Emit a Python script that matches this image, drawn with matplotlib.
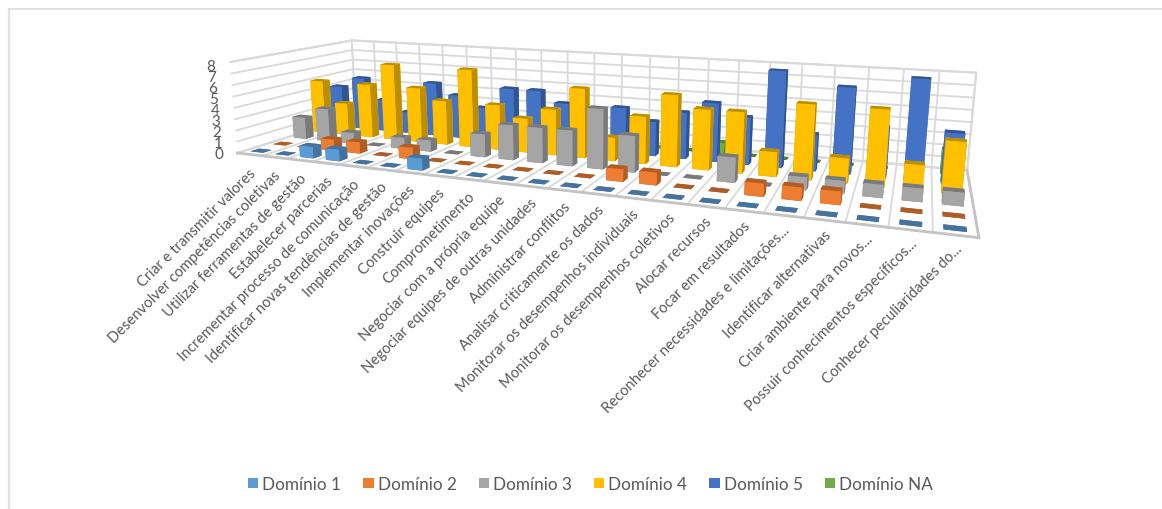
import matplotlib
matplotlib.use('Agg')
import matplotlib.pyplot as plt
from matplotlib.lines import Line2D
from matplotlib.patches import Patch
from matplotlib.colors import to_rgb
from mpl_toolkits.mplot3d import proj3d

plt.rcParams['font.family'] = ['Lato', 'DejaVu Sans']

categories = ["Criar e transmitir valores", "Desenvolver competências coletivas", "Utilizar ferramentas de gestão",
              "Estabelecer parcerias", "Incrementar processo de comunicação", "Identificar novas tendências de gestão",
              "Implementar inovações", "Construir equipes", "Comprometimento", "Negociar com a própria equipe",
              "Negociar equipes de outras unidades", "Administrar conflitos", "Analisar criticamente os dados",
              "Monitorar os desempenhos individuais", "Monitorar os desempenhos coletivos", "Alocar recursos",
              "Focar em resultados", "Reconhecer necessidades e limitações...", "Identificar alternativas",
              "Criar ambiente para novos...", "Possuir conhecimentos específicos...", "Conhecer peculiaridades do..."]
dominio_1 = [0, 0, 1, 1, 0, 0, 1, 0, 0, 0, 0, 0, 0, 0, 0, 0, 0, 0, 0, 0, 0, 0]
dominio_2 = [0, 0, 1, 1, 0, 1, 0, 0, 0, 0, 0, 0, 1, 1, 0, 0, 1, 1, 1, 0, 0, 0]
dominio_3 = [2, 3, 1, 0, 1, 1, 0, 2, 3, 3, 3, 5, 3, 0, 0, 2, 0, 1, 1, 1, 1, 1]
dominio_4 = [5, 3, 5, 7, 5, 4, 7, 4, 3, 4, 6, 2, 4, 6, 5, 5, 2, 6, 2, 6, 2, 4]
dominio_5 = [4, 5, 3, 2, 5, 4, 3, 5, 5, 4, 2, 4, 3, 4, 5, 4, 8, 3, 7, 4, 8, 4]
dominio_na = [0, 0, 0, 0, 0, 1, 0, 0, 0, 0, 0, 0, 0, 0, 1, 0, 0, 0, 0, 0, 0, 2]
series = [dominio_1, dominio_2, dominio_3, dominio_4, dominio_5, dominio_na]
series_names = ["Domínio 1", "Domínio 2", "Domínio 3", "Domínio 4", "Domínio 5", "Domínio NA"]
colors = ['#5B9BD5', '#ED7D31', '#A5A5A5', '#FFC000', '#4472C4', '#70AD47']
z_ticks = [0, 1, 2, 3, 4, 5, 6, 7, 8]

W, H = 1162, 510
GRID = '#D9D9D9'
TEXT = '#595959'
fig = plt.figure(figsize=(W / 100, H / 100), dpi=100, facecolor='white')
ax = fig.add_axes([0, 0, H / W, 1], projection='3d', computed_zorder=False)
n_cat, n_ser = len(categories), len(series)
ax.set_xlim(0, n_cat, view_margin=0)
ax.set_ylim(0, n_ser, view_margin=0)
ax.set_zlim(0, z_ticks[-1], view_margin=0)
ax.view_init(11.720, -68.787, -0.030)
ax.set_proj_type('persp', focal_length=0.2176)
ax.set_box_aspect((7.3979, 2.1218, 1.0))

# place the square axes so that the projection lands on the fitted pixel frame
A, TX, TY = 3916.29, 588.33, 115.83
u0, u1 = ax.viewLim.intervalx
v0, v1 = ax.viewLim.intervaly
S_x = A * (u1 - u0)
S_y = A * (v1 - v0)
left = TX - S_x * (0 - u0) / (u1 - u0)
bottom = (H - TY) - S_y * (0 - v0) / (v1 - v0)
ax.set_position([left / W, bottom / H, S_x / W, S_y / H])
ax.patch.set_visible(False)

ax.set_xticks(range(n_cat + 1))
ax.set_xticklabels([''] * (n_cat + 1))
ax.set_yticks([])
ax.set_zticks(z_ticks)
ax.set_zticklabels([''] * len(z_ticks))
for axis in (ax.xaxis, ax.yaxis, ax.zaxis):
    axis.set_pane_color((1, 1, 1, 1))
    axis.pane.set_edgecolor(GRID)
    axis.pane.set_linewidth(1.5)
    axis._axinfo['grid'].update(color=GRID, linewidth=1.3, linestyle='-')
    axis._axinfo['tick'].update(inward_factor=0, outward_factor=0)
    axis.line.set_color('#C4C4C4')
    axis.line.set_linewidth(2.0)
ax.zaxis.line.set_color((0, 0, 0, 0))
ax.grid(True)

# back-to-front painter's order
BAR_X, BAR_Y = 0.52, 0.38
order = 0
for j in range(n_ser - 1, -1, -1):
    base = to_rgb(colors[j])
    dark = tuple(c * 0.74 for c in base)
    for i in range(n_cat):
        val = series[j][i]
        face = [dark, dark, base, base, dark, dark]
        order += 1
        bar = ax.bar3d(i + 0.5 - BAR_X / 2, j + 0.5 - BAR_Y / 2, 0, BAR_X, BAR_Y, val, color=face,
                       shade=False, linewidth=0, edgecolor='none', zorder=10 + order)
        bar.set_clip_on(False)

M = ax.get_proj()
for i, name in enumerate(categories):
    drop = -1.4 + 0.7 * i / (n_cat - 1)
    u, v, _ = proj3d.proj_transform(i + 0.62, 0, drop, M)
    ax.text2D(float(u), float(v), name, transform=ax.transData, rotation=45, rotation_mode='anchor',
              ha='right', va='center', fontsize=10.6, color=TEXT, zorder=500)
for k in z_ticks:
    u, v, _ = proj3d.proj_transform(-0.6, 0, k * 0.975 - 0.2, M)
    ax.text2D(float(u), float(v), str(k), transform=ax.transData, ha='right', va='center',
              fontsize=11, color=TEXT, zorder=500)

handles = [Patch(facecolor=c, edgecolor='none') for c in colors]
fig.legend(handles, series_names, loc='center', bbox_to_anchor=(590.5 / W, 1 - 485 / H), ncols=6,
           frameon=False, fontsize=12.3, labelcolor=TEXT, handlelength=0.6, handleheight=0.6,
           handletextpad=0.25, columnspacing=1.28, borderpad=0, borderaxespad=0)

fig.add_artist(Line2D([8.5 / W, 8.5 / W], [0, 1 - 9.5 / H], color='#E2E2E2', lw=1.6))
fig.add_artist(Line2D([8.5 / W, 1162 / W], [1 - 9.5 / H, 1 - 9.5 / H], color='#DCDCDC', lw=1.2))

fig.savefig('out.png', dpi=100)
